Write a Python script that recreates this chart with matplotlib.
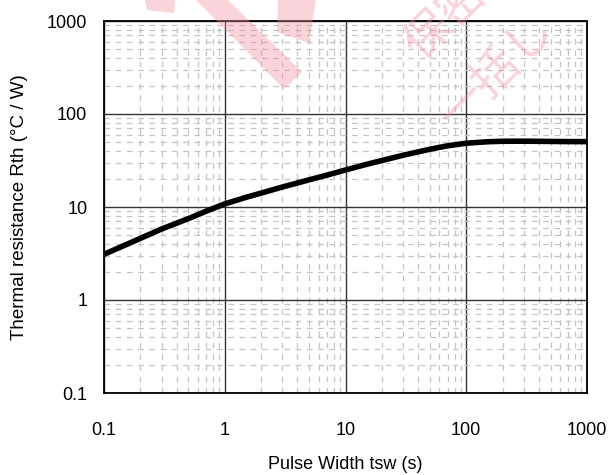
import matplotlib
matplotlib.use("Agg")
import matplotlib.pyplot as plt
from matplotlib.patches import Polygon
from matplotlib.ticker import LogLocator, FixedLocator, FixedFormatter, NullFormatter

plt.rcParams['font.family'] = ['Liberation Sans', 'Noto Sans CJK JP', 'DejaVu Sans']

# Data
pulse_width = [0.1, 0.15, 0.2, 0.3, 0.5, 0.7, 1, 1.5, 2, 3, 5, 7, 10, 15, 20, 30, 50, 70,
               100, 150, 200, 300, 500, 700, 1000]
rth = [3.1, 3.9, 4.6, 5.8, 7.5, 9.0, 10.8, 12.7, 14.1, 16.4, 19.6, 22.0, 25.0, 28.8, 31.6,
       36.0, 41.8, 45.5, 48.5, 50.3, 50.9, 51.0, 50.7, 50.5, 50.5]

x_ticks = [0.1, 1, 10, 100, 1000]
x_tick_labels = ['0.1', '1', '10', '100', '1000']
y_ticks = [0.1, 1, 10, 100, 1000]
y_tick_labels = ['0.1', '1', '10', '100', '1000']

W, H = 614, 475
fig = plt.figure(figsize=(W / 100, H / 100), dpi=100)
ax = fig.add_axes([104 / W, 1 - 393 / H, (587 - 104) / W, (393 - 21) / H])

ax.set_xscale('log')
ax.set_yscale('log')
ax.set_xlim(0.1, 1000)
ax.set_ylim(0.1, 1000)

ax.xaxis.set_major_locator(FixedLocator(x_ticks))
ax.xaxis.set_major_formatter(FixedFormatter(x_tick_labels))
ax.yaxis.set_major_locator(FixedLocator(y_ticks))
ax.yaxis.set_major_formatter(FixedFormatter(y_tick_labels))
ax.xaxis.set_minor_locator(LogLocator(base=10, subs=range(2, 10), numticks=20))
ax.yaxis.set_minor_locator(LogLocator(base=10, subs=range(2, 10), numticks=20))
ax.xaxis.set_minor_formatter(NullFormatter())
ax.yaxis.set_minor_formatter(NullFormatter())

ax.grid(which='minor', color='#c4c4c4', linewidth=0.9, linestyle=(0, (4.5, 4.5)), zorder=0)
ax.grid(which='major', color='#333333', linewidth=1.0, linestyle='-', zorder=1)

ax.tick_params(which='both', length=0)
ax.tick_params(axis='x', which='major', pad=21, labelsize=13)
ax.tick_params(axis='y', which='major', pad=12, labelsize=13)

for s in ax.spines.values():
    s.set_color('black')
    s.set_linewidth(1.3)

ax.plot(pulse_width, rth, color='black', linewidth=4.0, solid_capstyle='butt', zorder=3)

ax.set_xlabel('Pulse Width tsw (s)', fontsize=13, labelpad=12)
ax.set_ylabel('Thermal resistance Rth (°C / W)', fontsize=13.5, labelpad=14)

# Watermark (pink, semi-transparent)
pink = (0.96, 0.55, 0.63, 0.38)
def fpoly(pts):
    return Polygon([(x / W, 1 - y / H) for x, y in pts], closed=True,
                   transform=fig.transFigure, facecolor=pink, edgecolor='none', zorder=10)
fig.patches.append(fpoly([(145, 0), (175, 0), (174, 13), (147, 10)]))
fig.patches.append(fpoly([(196, 0), (228, 0), (302, 72), (284, 89)]))
fig.patches.append(fpoly([(278, 0), (316, 0), (309, 43), (277, 32)]))
fig.text(446 / W, 1 - 18 / H, '保密', fontsize=34, rotation=45, color=pink,
         ha='center', va='center', family=['Noto Sans CJK JP'], zorder=10)
fig.text(497 / W, 1 - 72 / H, '一括し', fontsize=34, rotation=45, color=pink,
         ha='center', va='center', family=['Noto Sans CJK JP'], zorder=10)

fig.savefig('out.png', dpi=100)
